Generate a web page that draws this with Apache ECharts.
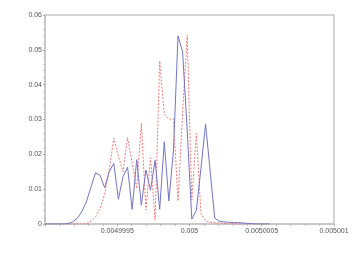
<!DOCTYPE html>
<html>
<head>
<meta charset="utf-8">
<script src="https://cdn.jsdelivr.net/npm/echarts@6/dist/echarts.min.js"></script>
<style>html,body{margin:0;padding:0;background:#fff;}#c{width:360px;height:260px;}</style>
</head>
<body>
<div id="c"></div>
<script>
var xValues = [0.004999, 0.0049990317, 0.0049990635, 0.0049990952, 0.004999127, 0.0049991587, 0.0049991905, 0.0049992222,
  0.004999254, 0.0049992857, 0.0049993175, 0.0049993492, 0.004999381, 0.0049994127, 0.0049994444, 0.0049994762,
  0.0049995079, 0.0049995397, 0.0049995714, 0.0049996032, 0.0049996349, 0.0049996667, 0.0049996984, 0.0049997302,
  0.0049997619, 0.0049997937, 0.0049998254, 0.0049998571, 0.0049998889, 0.0049999206, 0.0049999524, 0.0049999841,
  0.0050000159, 0.0050000476, 0.0050000794, 0.0050001111, 0.0050001429, 0.0050001746, 0.0050002063, 0.0050002381,
  0.0050002698, 0.0050003016, 0.0050003333, 0.0050003651, 0.0050003968, 0.0050004286, 0.0050004603, 0.0050004921,
  0.0050005238, 0.0050005556];
var blueValues = [0, 0, 0, 0, 0, 0.0001, 0.0006, 0.0016,
  0.0035, 0.0063, 0.0105, 0.0147, 0.0140, 0.0104, 0.0150, 0.0174,
  0.0071, 0.0136, 0.0163, 0.0042, 0.0185, 0.0054, 0.0155, 0.0097,
  0.0183, 0.0042, 0.0236, 0.0066, 0.0210, 0.0540, 0.0494, 0.0270,
  0.0014, 0.0040, 0.0160, 0.0287, 0.0152, 0.0017, 0.0008, 0.0006,
  0.0005, 0.0004, 0.0004, 0.0003, 0.0002, 0.0001, 0, 0,
  0, 0];
var redValues = [0, 0, 0, 0, 0, 0, 0, 0,
  0, 0.0001, 0.0008, 0.0020, 0.0045, 0.0085, 0.0155, 0.0246,
  0.0195, 0.0150, 0.0248, 0.0175, 0.0102, 0.0289, 0.0040, 0.0190,
  0.0011, 0.0468, 0.0315, 0.0301, 0.0302, 0.0066, 0.0320, 0.0542,
  0.0069, 0.0260, 0.0030, 0.0009, 0.0005, 0.0004, 0.0003, 0.0002,
  0.0001, 0.0001, 0, 0, 0, 0, 0, 0,
  0, 0];
var yTicks = [0, 0.01, 0.02, 0.03, 0.04, 0.05, 0.06];
var xTicks = [0.004999, 0.0049995, 0.005, 0.0050005, 0.005001];

function pairs(xs, ys) { return xs.map(function (x, i) { return [x, ys[i]]; }); }

var chart = echarts.init(document.getElementById('c'), null, {renderer: 'canvas'});
var labelFont = {fontFamily: 'Liberation Sans, Arial, sans-serif', fontSize: 7, color: '#555'};
chart.setOption({
  animation: false,
  backgroundColor: '#fff',
  grid: {left: 45, right: 26, top: 15, bottom: 36, show: true, borderColor: '#aaa', borderWidth: 1, backgroundColor: 'transparent'},
  xAxis: {
    type: 'value',
    min: xTicks[0], max: xTicks[xTicks.length - 1], interval: xTicks[1] - xTicks[0],
    axisLine: {show: true, onZero: false, lineStyle: {color: '#c8c8c8', width: 2}},
    axisTick: {show: true, length: 2, lineStyle: {color: '#aaa'}},
    minorTick: {show: true, splitNumber: 5, length: 2, lineStyle: {color: '#bbb'}},
    splitLine: {show: false},
    axisLabel: Object.assign({margin: 4, showMinLabel: false, formatter: function (v) { return String(+v.toFixed(10)); }}, labelFont)
  },
  yAxis: {
    type: 'value',
    min: yTicks[0], max: yTicks[yTicks.length - 1], interval: 0.01,
    axisLine: {show: true, lineStyle: {color: '#c8c8c8', width: 2}},
    axisTick: {show: true, length: 2, lineStyle: {color: '#aaa'}},
    minorTick: {show: true, splitNumber: 5, length: 1.5, lineStyle: {color: '#bbb'}},
    splitLine: {show: false},
    axisLabel: Object.assign({margin: 3, formatter: function (v) { return String(+v.toFixed(4)); }}, labelFont)
  },
  series: [
    {type: 'line', data: pairs(xValues, redValues), showSymbol: false, symbol: 'none',
     lineStyle: {color: '#f47878', width: 1, type: [2, 1.5]}, z: 3},
    {type: 'line', data: pairs(xValues, blueValues), showSymbol: false, symbol: 'none',
     lineStyle: {color: '#7474c4', width: 1}, z: 4}
  ]
});
</script>
</body>
</html>
